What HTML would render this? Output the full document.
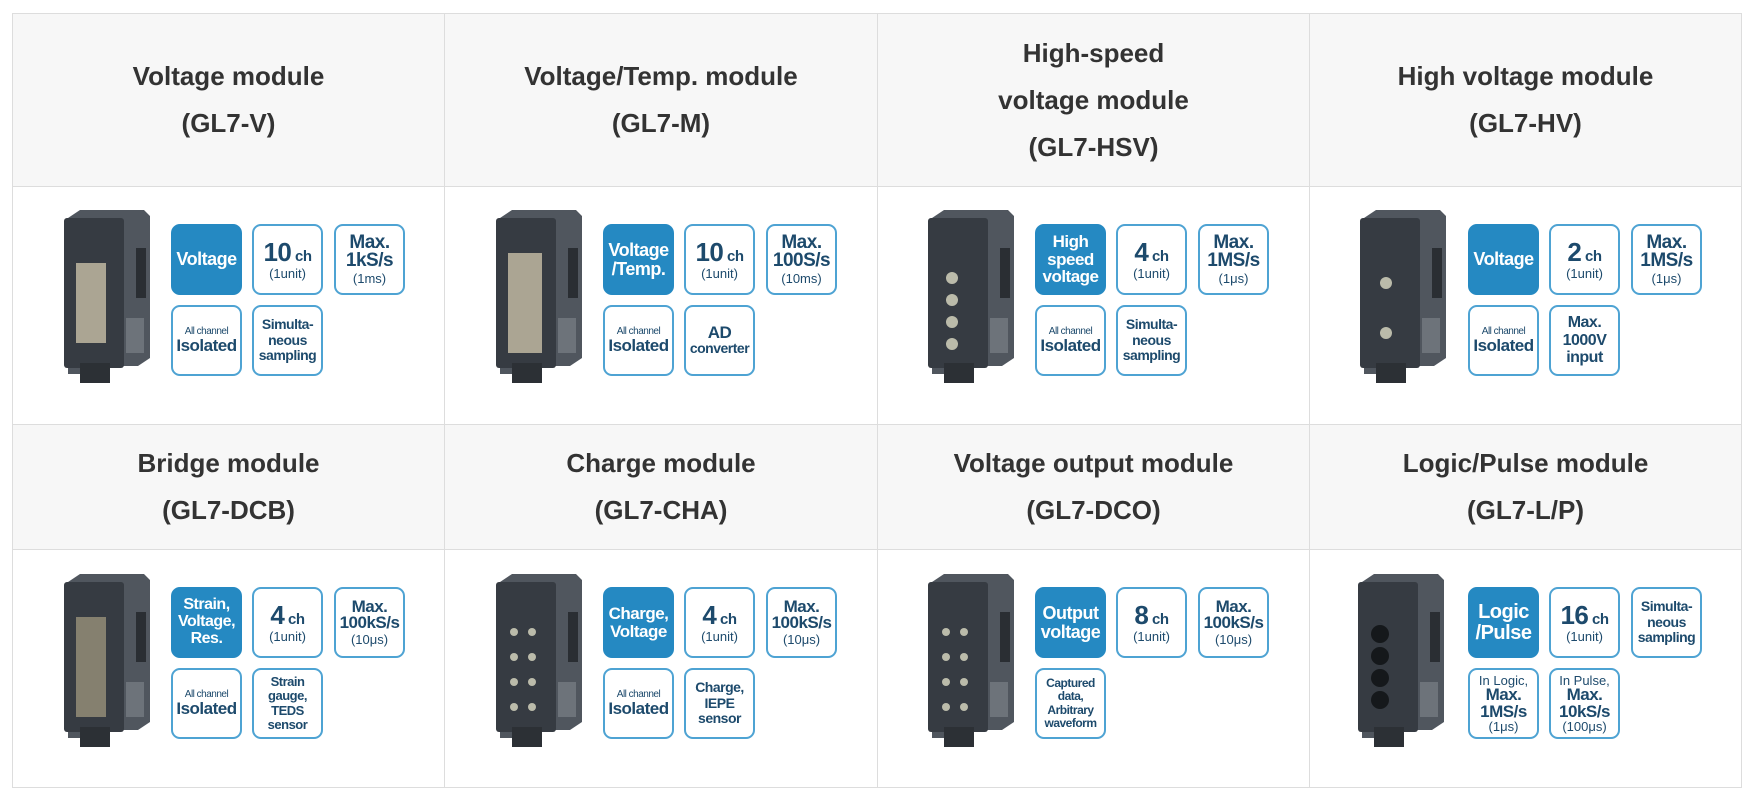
<!DOCTYPE html>
<html><head><meta charset="utf-8"><style>
*{margin:0;padding:0;box-sizing:border-box}
body{width:1749px;height:793px;background:#fff;position:relative;overflow:hidden;font-family:"Liberation Sans",sans-serif}
.hd{position:absolute;background:#f7f7f7;border:1px solid #ddd;display:flex;flex-direction:column;align-items:center;justify-content:center;font-weight:bold;font-size:26px;line-height:47px;color:#333;text-align:center}
.ct{position:absolute;background:#fff;border:1px solid #ddd}
.dev{position:absolute}
.b{position:absolute;width:71px;height:71px;border:2px solid #4ea3d3;border-radius:9px;display:flex;flex-direction:column;align-items:center;justify-content:center;color:#1d4a6c;font-weight:bold;text-align:center;font-family:"Liberation Sans Narrow","Liberation Sans",sans-serif;line-height:1;letter-spacing:-0.5px}
.f{background:#2589c2;border-color:#2589c2;color:#fff;font-size:18px;line-height:1.05}
.n{font-size:26px}.n small{font-size:15px}
.u{font-size:13px;font-weight:normal;margin-top:2px;letter-spacing:0}
.m{font-size:19px;line-height:0.95}
.s{font-size:14px;line-height:1.1}
.t{font-size:10px;font-weight:normal}
.i{font-size:17px}
</style></head><body>
<div class="hd" style="left:12px;top:13px;width:433px;height:174px"><div>Voltage module</div><div>(GL7-V)</div></div>
<div class="hd" style="left:444px;top:13px;width:434px;height:174px"><div>Voltage/Temp. module</div><div>(GL7-M)</div></div>
<div class="hd" style="left:877px;top:13px;width:433px;height:174px"><div>High-speed</div><div>voltage module</div><div>(GL7-HSV)</div></div>
<div class="hd" style="left:1309px;top:13px;width:433px;height:174px"><div>High voltage module</div><div>(GL7-HV)</div></div>
<div class="ct" style="left:12px;top:186px;width:433px;height:239px"></div>
<div class="ct" style="left:444px;top:186px;width:434px;height:239px"></div>
<div class="ct" style="left:877px;top:186px;width:433px;height:239px"></div>
<div class="ct" style="left:1309px;top:186px;width:433px;height:239px"></div>
<div class="hd" style="left:12px;top:424px;width:433px;height:126px"><div>Bridge module</div><div>(GL7-DCB)</div></div>
<div class="hd" style="left:444px;top:424px;width:434px;height:126px"><div>Charge module</div><div>(GL7-CHA)</div></div>
<div class="hd" style="left:877px;top:424px;width:433px;height:126px"><div>Voltage output module</div><div>(GL7-DCO)</div></div>
<div class="hd" style="left:1309px;top:424px;width:433px;height:126px"><div>Logic/Pulse module</div><div>(GL7-L/P)</div></div>
<div class="ct" style="left:12px;top:549px;width:433px;height:239px"></div>
<div class="ct" style="left:444px;top:549px;width:434px;height:239px"></div>
<div class="ct" style="left:877px;top:549px;width:433px;height:239px"></div>
<div class="ct" style="left:1309px;top:549px;width:433px;height:239px"></div>

<svg width="0" height="0" style="position:absolute"><defs>
<g id="dv">
<path d="M8 10 L20 2 L84 2 L90 8 L90 150 L78 158 L24 158 L24 166 L8 166 Z" fill="#50565e"/>
<rect x="4" y="10" width="60" height="150" rx="3" fill="#363b42"/>
<rect x="76" y="40" width="10" height="50" fill="#2a2e33"/>
<rect x="20" y="155" width="30" height="20" fill="#2c3035"/>
<rect x="66" y="110" width="18" height="35" fill="#8a8f96" opacity=".5"/>
</g></defs></svg>

<svg class="dev" style="left:60px;top:208px" width="92" height="180"><use href="#dv"/><rect x="16" y="55" width="30" height="80" fill="#c9c1a8" opacity=".8"/></svg>
<svg class="dev" style="left:492px;top:208px" width="92" height="180"><use href="#dv"/><rect x="16" y="45" width="34" height="100" fill="#c9c1a8" opacity=".8"/></svg>
<svg class="dev" style="left:924px;top:208px" width="92" height="180"><use href="#dv"/><circle cx="28" cy="70" r="6" fill="#bba"/><circle cx="28" cy="92" r="6" fill="#bba"/><circle cx="28" cy="114" r="6" fill="#bba"/><circle cx="28" cy="136" r="6" fill="#bba"/></svg>
<svg class="dev" style="left:1356px;top:208px" width="92" height="180"><use href="#dv"/><circle cx="30" cy="75" r="6" fill="#bba"/><circle cx="30" cy="125" r="6" fill="#bba"/></svg>
<svg class="dev" style="left:60px;top:572px" width="92" height="180"><use href="#dv"/><rect x="16" y="45" width="30" height="100" fill="#9a927a" opacity=".8"/></svg>
<svg class="dev" style="left:492px;top:572px" width="92" height="180"><use href="#dv"/><circle cx="22" cy="60" r="4" fill="#bba"/><circle cx="40" cy="60" r="4" fill="#bba"/><circle cx="22" cy="85" r="4" fill="#bba"/><circle cx="40" cy="85" r="4" fill="#bba"/><circle cx="22" cy="110" r="4" fill="#bba"/><circle cx="40" cy="110" r="4" fill="#bba"/><circle cx="22" cy="135" r="4" fill="#bba"/><circle cx="40" cy="135" r="4" fill="#bba"/></svg>
<svg class="dev" style="left:924px;top:572px" width="92" height="180"><use href="#dv"/><circle cx="22" cy="60" r="4" fill="#bba"/><circle cx="40" cy="60" r="4" fill="#bba"/><circle cx="22" cy="85" r="4" fill="#bba"/><circle cx="40" cy="85" r="4" fill="#bba"/><circle cx="22" cy="110" r="4" fill="#bba"/><circle cx="40" cy="110" r="4" fill="#bba"/><circle cx="22" cy="135" r="4" fill="#bba"/><circle cx="40" cy="135" r="4" fill="#bba"/></svg>
<svg class="dev" style="left:1354px;top:572px" width="92" height="180"><use href="#dv"/><circle cx="26" cy="62" r="9" fill="#15181b"/><circle cx="26" cy="84" r="9" fill="#15181b"/><circle cx="26" cy="106" r="9" fill="#15181b"/><circle cx="26" cy="128" r="9" fill="#15181b"/></svg>

<div class="b f" style="left:171px;top:224px">Voltage</div>
<div class="b" style="left:252px;top:224px"><div class="n">10<small> ch</small></div><div class="u">(1unit)</div></div>
<div class="b" style="left:334px;top:224px"><div class="m">Max.<br>1kS/s</div><div class="u">(1ms)</div></div>
<div class="b" style="left:171px;top:305px"><div class="t">All channel</div><div class="i">Isolated</div></div>
<div class="b" style="left:252px;top:305px"><div class="s">Simulta-<br>neous<br>sampling</div></div>
<div class="b f" style="left:603px;top:224px">Voltage<br>/Temp.</div>
<div class="b" style="left:684px;top:224px"><div class="n">10<small> ch</small></div><div class="u">(1unit)</div></div>
<div class="b" style="left:766px;top:224px"><div class="m">Max.<br>100S/s</div><div class="u">(10ms)</div></div>
<div class="b" style="left:603px;top:305px"><div class="t">All channel</div><div class="i">Isolated</div></div>
<div class="b" style="left:684px;top:305px"><div class="i">AD</div><div class="s">converter</div></div>
<div class="b f" style="left:1035px;top:224px;font-size:17px">High<br>speed<br>voltage</div>
<div class="b" style="left:1116px;top:224px"><div class="n">4<small> ch</small></div><div class="u">(1unit)</div></div>
<div class="b" style="left:1198px;top:224px"><div class="m">Max.<br>1MS/s</div><div class="u">(1μs)</div></div>
<div class="b" style="left:1035px;top:305px"><div class="t">All channel</div><div class="i">Isolated</div></div>
<div class="b" style="left:1116px;top:305px"><div class="s">Simulta-<br>neous<br>sampling</div></div>
<div class="b f" style="left:1468px;top:224px">Voltage</div>
<div class="b" style="left:1549px;top:224px"><div class="n">2<small> ch</small></div><div class="u">(1unit)</div></div>
<div class="b" style="left:1631px;top:224px"><div class="m">Max.<br>1MS/s</div><div class="u">(1μs)</div></div>
<div class="b" style="left:1468px;top:305px"><div class="t">All channel</div><div class="i">Isolated</div></div>
<div class="b" style="left:1549px;top:305px"><div class="s" style="font-size:16px">Max.<br>1000V<br>input</div></div>
<div class="b f" style="left:171px;top:587px;font-size:16px">Strain,<br>Voltage,<br>Res.</div>
<div class="b" style="left:252px;top:587px"><div class="n">4<small> ch</small></div><div class="u">(1unit)</div></div>
<div class="b" style="left:334px;top:587px"><div class="m" style="font-size:17px">Max.<br>100kS/s</div><div class="u">(10μs)</div></div>
<div class="b" style="left:171px;top:668px"><div class="t">All channel</div><div class="i">Isolated</div></div>
<div class="b" style="left:252px;top:668px"><div class="s" style="font-size:13px">Strain<br>gauge,<br>TEDS<br>sensor</div></div>
<div class="b f" style="left:603px;top:587px;font-size:17px">Charge,<br>Voltage</div>
<div class="b" style="left:684px;top:587px"><div class="n">4<small> ch</small></div><div class="u">(1unit)</div></div>
<div class="b" style="left:766px;top:587px"><div class="m" style="font-size:17px">Max.<br>100kS/s</div><div class="u">(10μs)</div></div>
<div class="b" style="left:603px;top:668px"><div class="t">All channel</div><div class="i">Isolated</div></div>
<div class="b" style="left:684px;top:668px"><div class="s">Charge,<br>IEPE<br>sensor</div></div>
<div class="b f" style="left:1035px;top:587px">Output<br>voltage</div>
<div class="b" style="left:1116px;top:587px"><div class="n">8<small> ch</small></div><div class="u">(1unit)</div></div>
<div class="b" style="left:1198px;top:587px"><div class="m" style="font-size:17px">Max.<br>100kS/s</div><div class="u">(10μs)</div></div>
<div class="b" style="left:1035px;top:668px"><div class="s" style="font-size:12px">Captured<br>data,<br>Arbitrary<br>waveform</div></div>
<div class="b f" style="left:1468px;top:587px;font-size:20px">Logic<br>/Pulse</div>
<div class="b" style="left:1549px;top:587px"><div class="n">16<small> ch</small></div><div class="u">(1unit)</div></div>
<div class="b" style="left:1631px;top:587px"><div class="s">Simulta-<br>neous<br>sampling</div></div>
<div class="b" style="left:1468px;top:668px"><div class="u" style="margin:0">In Logic,</div><div class="m" style="font-size:17px">Max.<br>1MS/s</div><div class="u" style="margin:0">(1μs)</div></div>
<div class="b" style="left:1549px;top:668px"><div class="u" style="margin:0">In Pulse,</div><div class="m" style="font-size:17px">Max.<br>10kS/s</div><div class="u" style="margin:0">(100μs)</div></div>
</body></html>
